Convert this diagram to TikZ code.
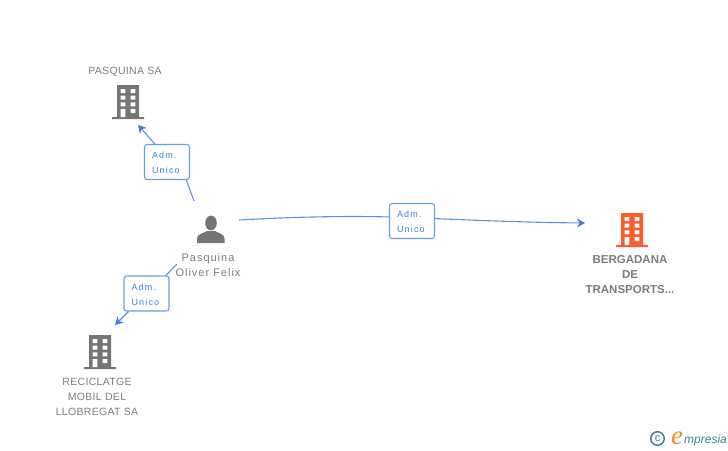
\documentclass[tikz,border=0pt]{standalone}
\usepackage{fontspec}
\setmainfont{Liberation Sans}
\newfontfamily\logoserif{Liberation Serif}
\usetikzlibrary{arrows.meta}
\definecolor{linkblue}{HTML}{3F7FE0}
\definecolor{linesoft}{HTML}{5A93E6}
\definecolor{boxblue}{HTML}{6A9FE8}
\definecolor{grayicon}{HTML}{757575}
\definecolor{orangeicon}{HTML}{FF5A2C}
\definecolor{txtgray}{HTML}{7C7C7C}
\definecolor{logoteal}{HTML}{3E8296}
\definecolor{logoorange}{HTML}{F08A24}
\tikzset{
  x=1pt,y=-1pt,
  building/.pic={
    \fill[pic actions] (-11,-17) rectangle (11,15) (-16,15) rectangle (16,17);
    \fill[white] (-7.3,-13) rectangle (-2.7,-9) (2.7,-13) rectangle (7.3,-9)
      (-7.3,-6.3) rectangle (-2.7,-2.3) (2.7,-6.3) rectangle (7.3,-2.3)
      (-7.3,0.3) rectangle (-2.7,4.3) (2.7,0.3) rectangle (7.3,4.3)
      (-7.3,7) rectangle (-2.7,15) (2.7,7) rectangle (7.3,11);
  },
  namelabel/.style={font=\fontsize{10.5}{15}\selectfont\addfontfeature{LetterSpace=3},text=txtgray,align=center,inner sep=0pt},
  boldlabel/.style={font=\fontsize{11.5}{15}\selectfont\bfseries,text=txtgray,align=center,inner sep=0pt},
  personlabel/.style={font=\fontsize{11}{15}\selectfont\addfontfeature{LetterSpace=9},text=txtgray,align=center,inner sep=0pt},
  rolebox/.style={draw=boxblue,line width=1.1pt,fill=white,rounded corners=2.5pt,minimum width=45pt,minimum height=35pt,inner sep=0pt,
    text width=30pt,font=\fontsize{9}{15}\selectfont\addfontfeature{LetterSpace=13},text=linkblue,align=left},
  link/.style={draw=linesoft,line width=1.1pt},
  arrowlink/.style={link,-{Stealth[length=8pt,width=9pt,color=linkblue]}},
}
\begin{document}
\begin{tikzpicture}
\useasboundingbox (0,0) rectangle (728,450);
% icons
\pic[fill=grayicon] at (128,102) {building};
\pic[fill=grayicon] at (100,352) {building};
\pic[fill=orangeicon] at (632,230) {building};
\fill[grayicon] (211,223) ellipse (5.8 and 7.4);
\fill[grayicon] (197,243) -- (197,238.5) .. controls (197,234) and (203,233.5) .. (207,231) -- (215,231) .. controls (219,233.5) and (224.5,234) .. (224.5,238.5) -- (224.5,243) -- cycle;
% labels
\node[namelabel] (pasquinasa) at (125,72) {PASQUINA SA};
\node[namelabel] (reciclatge) at (97,397) {RECICLATGE\\MOBIL DEL\\LLOBREGAT SA};
\node[boldlabel] (bergadana) at (630,275) {BERGADANA\\DE\\TRANSPORTS...};
\node[personlabel] (person) at (208,265) {Pasquina\\Oliver Felix};
% role boxes
\node[rolebox] (r1) at (167,162) {\rule{0pt}{9pt}Adm.\\Unico};
\node[rolebox] (r2) at (146.5,293.5) {\rule{0pt}{9pt}Adm.\\Unico};
\node[rolebox] (r3) at (412,221) {\rule{0pt}{9pt}Adm.\\Unico};
% free ends
\coordinate (a1s) at (194,201);
\coordinate (a1e) at (138,125);
\coordinate (a2s) at (177,264);
\coordinate (a2e) at (115,325);
\coordinate (a3s) at (239,220);
\coordinate (a3e) at (585,223);
% connectors
\draw[link] (a1s) -- (r1.-43);
\draw[arrowlink] (r1.124) -- (a1e);
\draw[link] (a2s) -- (r2.43);
\draw[arrowlink] (r2.225) -- (a2e);
\draw[link] (a3s) .. controls (300,216.5) and (350,216) .. (r3.170);
\draw[arrowlink] (r3.6) .. controls (480,220.5) and (530,222.5) .. (a3e);
% logo
\node[draw=logoteal,line width=1.5pt,circle,minimum size=13.5pt,inner sep=0pt,font=\fontsize{11}{11}\selectfont,text=logoteal] (copy) at (657.5,438.5) {c};
\node[inner sep=0pt,anchor=base west,font=\fontsize{27}{27}\selectfont\logoserif\itshape,text=logoorange] (logoe) at (671,444) {e};
\node[inner sep=0pt,anchor=base west,font=\fontsize{12}{12}\selectfont\itshape,text=logoteal] (logot) at (684,443) {mpresia};
\end{tikzpicture}
\end{document}
